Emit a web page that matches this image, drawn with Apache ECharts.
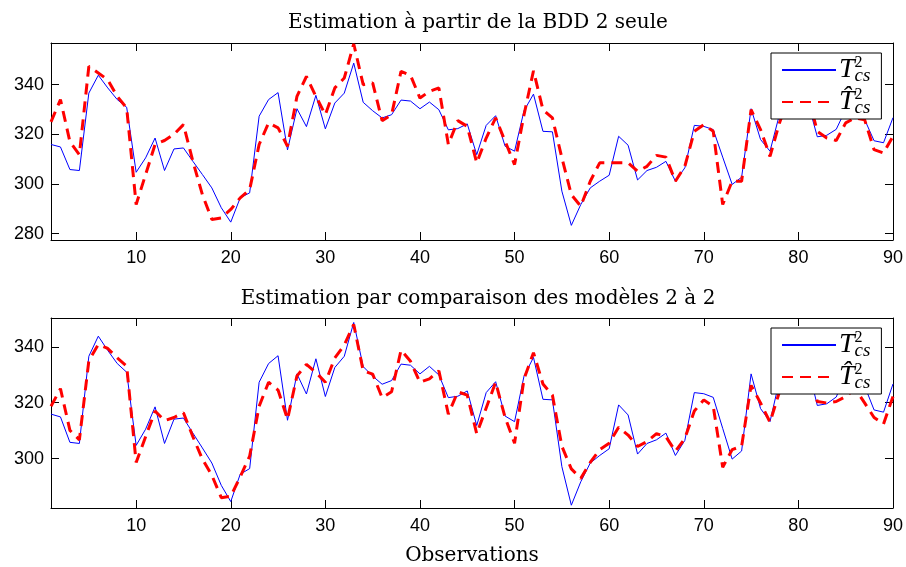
<!DOCTYPE html>
<html>
<head>
<meta charset="utf-8">
<script src="https://cdn.jsdelivr.net/npm/echarts@6/dist/echarts.min.js"></script>
<style>
  html, body { margin: 0; padding: 0; background: #fff; }
  #chart { width: 906px; height: 567px; }
</style>
</head>
<body>
<div id="chart"></div>
<script>
// T²cs mesuré (identique dans les deux graphes)
const tcs = [
  315.9, 314.9, 305.8, 305.4, 336.6, 343.8, 338.7, 334.0, 330.9, 304.7,
  310.5, 318.5, 305.4, 314.1, 314.5, 309.1, 303.8, 298.4, 290.4, 284.6,
  294.4, 296.4, 327.3, 334.0, 336.8, 313.7, 330.3, 323.1, 335.7, 322.2,
  332.6, 336.6, 348.7, 332.9, 329.5, 326.6, 327.9, 333.8, 333.4, 330.3,
  333.0, 329.9, 321.8, 322.3, 324.2, 311.8, 323.6, 327.5, 315.2, 313.2,
  329.5, 336.2, 321.2, 321.0, 297.1, 283.3, 291.7, 298.4, 301.1, 303.5,
  319.2, 315.6, 301.6, 305.4, 306.7, 309.1, 301.1, 306.5, 323.6, 323.2,
  321.9, 310.8, 299.8, 302.7, 330.3, 317.9, 313.2, 328.0, 334.0, 337.0,
  333.0, 319.0, 319.6, 322.0, 330.0, 331.0, 326.0, 317.4, 316.6, 326.7
]
// estimation à partir de la BDD 2 seule
const tcsHatBdd2 = [
  325.0, 334.0, 317.0, 311.8, 347.4, 344.7, 342.0, 335.3, 330.6, 291.7,
  303.8, 315.9, 317.5, 320.0, 323.9, 309.1, 295.7, 285.7, 286.3, 289.7,
  294.4, 297.7, 315.9, 324.6, 322.6, 315.2, 335.3, 343.3, 335.3, 327.9,
  338.7, 342.7, 356.4, 340.0, 340.7, 325.5, 327.9, 345.4, 343.8, 334.6,
  337.3, 338.7, 315.9, 325.5, 323.2, 308.5, 318.5, 326.6, 317.2, 307.8,
  327.9, 345.6, 329.9, 326.6, 310.5, 295.7, 291.0, 301.1, 308.5, 308.5,
  308.5, 308.5, 305.1, 307.1, 311.5, 310.8, 301.1, 307.1, 321.2, 323.9,
  321.2, 291.7, 301.1, 301.1, 329.9, 321.9, 311.1, 324.6, 335.0, 338.0,
  336.0, 321.2, 318.5, 317.5, 324.6, 326.6, 325.9, 313.8, 312.5, 319.2
]
// estimation par comparaison des modèles 2 à 2
const tcsHatComp = [
  318.7, 325.0, 310.1, 306.7, 335.0, 340.8, 339.4, 336.0, 333.1, 298.6,
  307.8, 317.0, 313.6, 314.7, 316.4, 307.8, 299.8, 294.0, 286.0, 286.5,
  293.4, 300.9, 318.7, 327.3, 324.5, 314.1, 329.6, 333.7, 330.8, 327.3,
  336.0, 340.6, 348.0, 331.4, 330.2, 321.8, 323.9, 338.8, 334.8, 327.3,
  328.5, 331.4, 315.9, 323.9, 322.7, 308.9, 318.1, 327.3, 314.7, 305.5,
  328.5, 337.9, 326.7, 322.7, 304.4, 296.3, 292.9, 298.6, 303.2, 305.5,
  311.2, 308.4, 304.3, 306.1, 308.9, 307.8, 302.6, 307.2, 317.0, 321.0,
  318.7, 296.9, 303.2, 304.4, 326.2, 319.9, 313.0, 323.9, 331.0, 335.0,
  333.0, 320.4, 319.9, 320.4, 322.2, 325.0, 319.9, 314.7, 312.4, 322.2
]
const titles = ['Estimation à partir de la BDD 2 seule', 'Estimation par comparaison des modèles 2 à 2']
const xTicks = [10, 20, 30, 40, 50, 60, 70, 80, 90]
const yTicksTop = [280, 300, 320, 340]
const yTicksBottom = [300, 320, 340]

const toPairs = arr => arr.map((v, i) => [i + 1, v])

const black = '#000'
const serif = 'DejaVu Serif'
const tickFont = { fontFamily: 'Liberation Sans', fontSize: 18, color: black }

function xAxes(grid, withName) {
  const base = {
    gridIndex: grid, type: 'value', min: 1, max: 90,
    axisLine: { lineStyle: { color: black, width: 1 } },
    axisTick: { inside: true, length: 8, customValues: xTicks, lineStyle: { color: black } },
    splitLine: { show: false }
  }
  return [
    Object.assign({}, base, {
      position: 'bottom',
      axisLabel: Object.assign({ customValues: xTicks, margin: 9 }, tickFont),
      name: withName ? 'Observations' : '',
      nameLocation: 'middle', nameGap: 38,
      nameTextStyle: { fontFamily: serif, fontSize: 20, color: black }
    }),
    Object.assign({}, base, { position: 'top', axisLabel: { show: false } })
  ]
}

function yAxes(grid, min, max, ticks) {
  const base = {
    gridIndex: grid, type: 'value', min: min, max: max,
    axisLine: { show: true, lineStyle: { color: black, width: 1 } },
    axisTick: { show: true, inside: true, length: 8, customValues: ticks, lineStyle: { color: black } },
    splitLine: { show: false }
  }
  return [
    Object.assign({}, base, {
      position: 'left',
      axisLabel: Object.assign({ customValues: ticks, margin: 7 }, tickFont)
    }),
    Object.assign({}, base, { position: 'right', axisLabel: { show: false } })
  ]
}

const legendRich = {
  t: { fontFamily: 'Liberation Serif', fontStyle: 'italic', fontSize: 28, color: black, lineHeight: 30 },
  sup: { fontFamily: 'Liberation Serif', fontSize: 16, color: black, width: 0, verticalAlign: 'top', lineHeight: 30 },
  sub: { fontFamily: 'Liberation Serif', fontStyle: 'italic', fontSize: 19, color: black, verticalAlign: 'bottom', lineHeight: 30 }
}

function legend(top) {
  return {
    orient: 'vertical', left: 771, top: top,
    itemWidth: 54, itemHeight: 14, itemGap: 2,
    padding: [2, 11, 2, 10],
    backgroundColor: '#fff', borderColor: black, borderWidth: 1,
    data: ['T', 'That'],
    itemStyle: { opacity: 0 },
    formatter: name => name === 'T' ? '{t|T}{sup|2}{sub|cs}' : '{t|T\u0302}{sup|2}{sub|cs}',
    textStyle: { rich: legendRich, padding: [0, 0, 0, -2] }
  }
}

function lines(grid, est) {
  return [
    {
      name: 'T', type: 'line', xAxisIndex: grid * 2, yAxisIndex: grid * 2,
      data: toPairs(tcs), symbol: 'none', z: 2,
      lineStyle: { color: '#0000ff', width: 1 }, itemStyle: { color: '#0000ff' }
    },
    {
      name: 'That', type: 'line', xAxisIndex: grid * 2, yAxisIndex: grid * 2,
      data: toPairs(est), symbol: 'none', z: 3,
      lineStyle: { color: '#ff0000', width: 3, type: [11, 7] }, itemStyle: { color: '#ff0000' }
    }
  ]
}

const chart = echarts.init(document.getElementById('chart'))
chart.setOption({
  animation: false,
  backgroundColor: '#fff',
  title: [
    { text: titles[0], left: 473, top: 8, textAlign: 'center',
      textStyle: { fontFamily: serif, fontSize: 20, fontWeight: 'normal', color: black } },
    { text: titles[1], left: 473, top: 284, textAlign: 'center',
      textStyle: { fontFamily: serif, fontSize: 20, fontWeight: 'normal', color: black } }
  ],
  grid: [
    { left: 51, right: 11, top: 43, height: 197 },
    { left: 51, right: 11, top: 318, height: 197 }
  ],
  xAxis: xAxes(0, false).concat(xAxes(1, true)),
  yAxis: yAxes(0, 277.4, 356.8, yTicksTop).concat(yAxes(1, 282.3, 350.3, yTicksBottom)),
  legend: [legend(53), legend(328)],
  series: lines(0, tcsHatBdd2).concat(lines(1, tcsHatComp))
})
</script>
</body>
</html>
